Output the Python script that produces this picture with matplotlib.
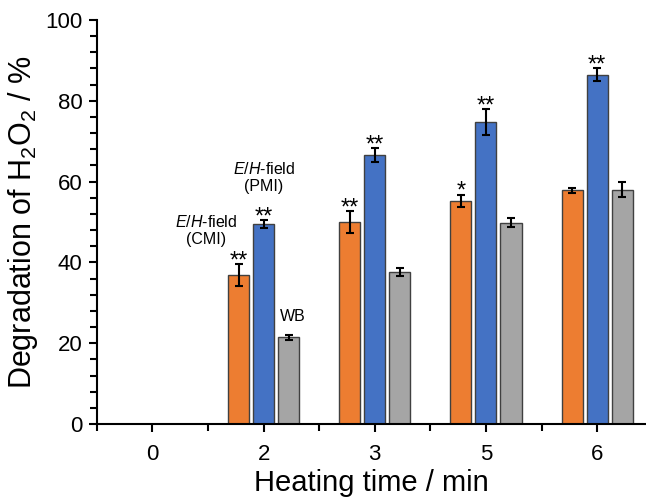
"""H2O2 degradation vs heating time, three heating modes."""

import matplotlib
matplotlib.use("Agg")
import matplotlib.pyplot as plt
import numpy as np
from matplotlib.ticker import MultipleLocator

plt.rcParams["font.family"] = ["Liberation Sans", "DejaVu Sans"]
plt.rcParams["mathtext.fontset"] = "custom"
plt.rcParams["mathtext.rm"] = "Liberation Sans"
plt.rcParams["mathtext.it"] = "Liberation Sans:italic"

times = ["0", "2", "3", "5", "6"]

cmi = [0.0, 36.9, 50.0, 55.3, 57.8]
cmi_err = [0.0, 2.7, 2.6, 1.5, 0.5]
pmi = [0.0, 49.5, 66.6, 74.8, 86.5]
pmi_err = [0.0, 1.1, 1.8, 3.2, 1.7]
wb = [0.0, 21.5, 37.6, 49.8, 58.0]
wb_err = [0.0, 0.6, 0.9, 1.1, 1.8]

cmi_marks = ["", "**", "**", "*", ""]
pmi_marks = ["", "**", "**", "**", "**"]

COLORS = {"cmi": "#ED7D31", "pmi": "#4472C4", "wb": "#A5A5A5"}
EDGE = "#404040"


def main():
    fig = plt.figure(figsize=(6.46, 5.0), dpi=100)
    ax = fig.add_axes([0.150, 0.152, 0.850, 0.808])

    x = np.arange(len(times))
    width = 0.19
    step = 0.225

    series = [
        (cmi, cmi_err, COLORS["cmi"], -step),
        (pmi, pmi_err, COLORS["pmi"], 0.0),
        (wb, wb_err, COLORS["wb"], step),
    ]
    for vals, errs, color, off in series:
        vals = np.asarray(vals)
        errs = np.asarray(errs)
        show = vals > 0
        ax.bar(x[show] + off, vals[show], width, color=color,
               edgecolor=EDGE, linewidth=1.0, zorder=2)
        ax.errorbar(x[show] + off, vals[show], yerr=errs[show], fmt="none",
                    ecolor="black", elinewidth=1.5, capsize=3, capthick=1.5,
                    zorder=3)

    # significance stars sit just above the error bars
    for vals, errs, marks, off in [(cmi, cmi_err, cmi_marks, -step),
                                   (pmi, pmi_err, pmi_marks, 0.0)]:
        for xi, v, e, m in zip(x, vals, errs, marks):
            if m:
                ax.annotate(m, (xi + off, v + e), xytext=(0, -2.5),
                            textcoords="offset points", ha="center",
                            va="baseline", fontsize=17)

    ax.text(0.48, 47.8, "$E$/$H$-field\n(CMI)", ha="center",
            va="center", fontsize=11.5, linespacing=1.15)
    ax.text(1.0, 61.1, "$E$/$H$-field\n(PMI)", ha="center",
            va="center", fontsize=11.5, linespacing=1.15)
    ax.text(1.26, 26.5, "WB", ha="center", va="center", fontsize=11.5)

    ax.set_xlim(-0.5, 4.44)
    ax.set_ylim(0, 100)
    ax.set_xticks(x)
    ax.set_xticklabels(times)
    ax.set_xticks(np.arange(-0.5, 4.5, 1.0), minor=True)
    ax.yaxis.set_major_locator(MultipleLocator(20))
    ax.yaxis.set_minor_locator(MultipleLocator(4))

    ax.tick_params(axis="both", which="major", direction="out", length=5.5,
                   width=1.5, labelsize=16, pad=5)
    ax.tick_params(axis="both", which="minor", direction="out", length=5,
                   width=1.5)
    ax.tick_params(axis="x", which="major", pad=9)

    for side in ["top", "right"]:
        ax.spines[side].set_visible(False)
    for side in ["left", "bottom"]:
        ax.spines[side].set_linewidth(1.5)

    ax.set_xlabel("Heating time / min", fontsize=21, labelpad=3)
    ax.set_ylabel("Degradation of H$_2$O$_2$ / %", fontsize=22, labelpad=4)

    fig.savefig("out.png", dpi=100)
    plt.close(fig)


if __name__ == "__main__":
    main()
